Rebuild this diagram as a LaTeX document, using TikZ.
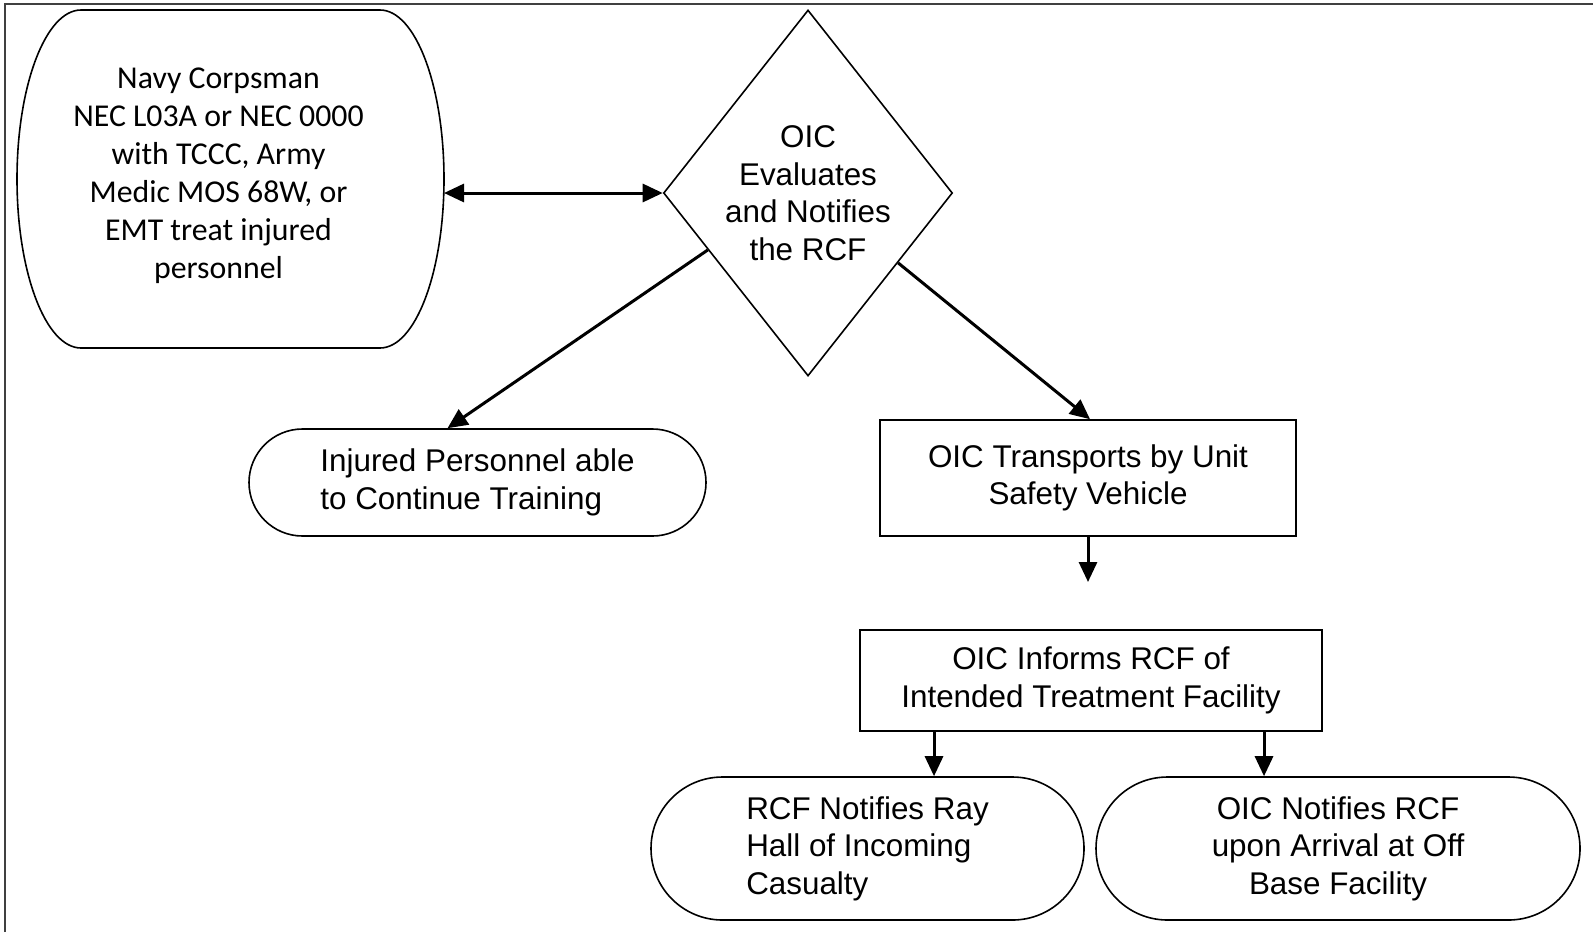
\documentclass[tikz,border=0pt]{standalone}
\usepackage{fontspec}
\setmainfont{Liberation Sans}
\newfontfamily\calibrifont{Carlito}
\usetikzlibrary{arrows.meta,positioning,shapes.geometric,calc}

\begin{document}
\begin{tikzpicture}[
  x=1pt, y=1pt,
  every node/.style={font=\fontsize{15.7}{18.8}\selectfont, text=black},
  stadium/.style={draw, line width=0.8pt, rounded corners=#1, inner sep=0pt},
  procbox/.style={draw, rectangle, line width=0.8pt, align=center, inner sep=0pt},
  decision/.style={draw, diamond, aspect=0.79, minimum width=144.5pt, minimum height=183pt,
    inner sep=0pt, align=center, line width=0.8pt},
  arr/.style={-{Triangle[length=10pt,width=9pt]}, line width=1.5pt},
  dblarr/.style={{Triangle[length=10pt,width=9pt]}-{Triangle[length=10pt,width=9pt]}, line width=1.5pt}
]
\useasboundingbox (0,0) rectangle (796.5,-466);
% frame
\draw[line width=1.2pt, black!75] (2.5,-466) -- (2.5,-2) -- (796.5,-2);

% treatment terminal (elliptic ends), text sits a little left of centre
\coordinate (navyc) at (115.25,-89.5);
\coordinate (navyeast) at (222,-96.5);
\node[inner sep=0pt, align=center, font=\calibrifont\fontsize{15.9}{19}\selectfont] (navy)
  at (109.25,-88) {Navy Corpsman\\NEC L03A or NEC 0000\\with TCCC, Army\\Medic MOS 68W, or\\EMT treat injured\\personnel};
\draw[line width=0.8pt] ($(navyc)+(-74.75,84.5)$) -- ($(navyc)+(74.75,84.5)$)
  arc[start angle=90, end angle=-90, x radius=32pt, y radius=84.5pt]
  -- ($(navyc)+(-74.75,-84.5)$)
  arc[start angle=270, end angle=90, x radius=32pt, y radius=84.5pt] -- cycle;

\node[decision] (diam) at (404,-96.5) {OIC\\Evaluates\\and Notifies\\the RCF};

\node[stadium=26.75pt, minimum width=228.5pt, minimum height=53.5pt, align=left] (injured)
  at (238.75,-241.25) {Injured Personnel able\\to Continue Training};

\node[procbox, minimum width=208pt, minimum height=58pt] (transport) at (544,-239)
  {OIC Transports by Unit\\Safety Vehicle};
\coordinate (transportend) at (544,-291);

\node[procbox, minimum width=231pt, minimum height=50.5pt] (informs) at (545.5,-340.25)
  {OIC Informs RCF of\\Intended Treatment Facility};

\node[stadium=35.75pt, minimum width=216.5pt, minimum height=71.5pt, align=left] (ray)
  at (433.75,-424.25) {RCF Notifies Ray\\Hall of Incoming\\Casualty};

\node[stadium=35.75pt, minimum width=242pt, minimum height=71.5pt, align=center] (arrival)
  at (669,-424.25) {OIC Notifies RCF\\upon Arrival at Off\\Base Facility};

% connectors
\draw[dblarr] (navyeast) -- (diam.west);
\draw[arr] ($(diam.west)!0.31!(diam.south)$) -- ([xshift=-15pt]injured.north);
\draw[arr] ($(diam.east)!0.38!(diam.south)$) -- ([xshift=1pt]transport.north);
\draw[arr] (transport.south) -- (transportend);
\coordinate (splitL) at ([xshift=-78.5pt]informs.south);
\coordinate (splitR) at ([xshift=86.5pt]informs.south);
\draw[arr] (splitL) -- (splitL |- ray.north);
\draw[arr] (splitR) -- (splitR |- arrival.north);
\end{tikzpicture}
\end{document}
